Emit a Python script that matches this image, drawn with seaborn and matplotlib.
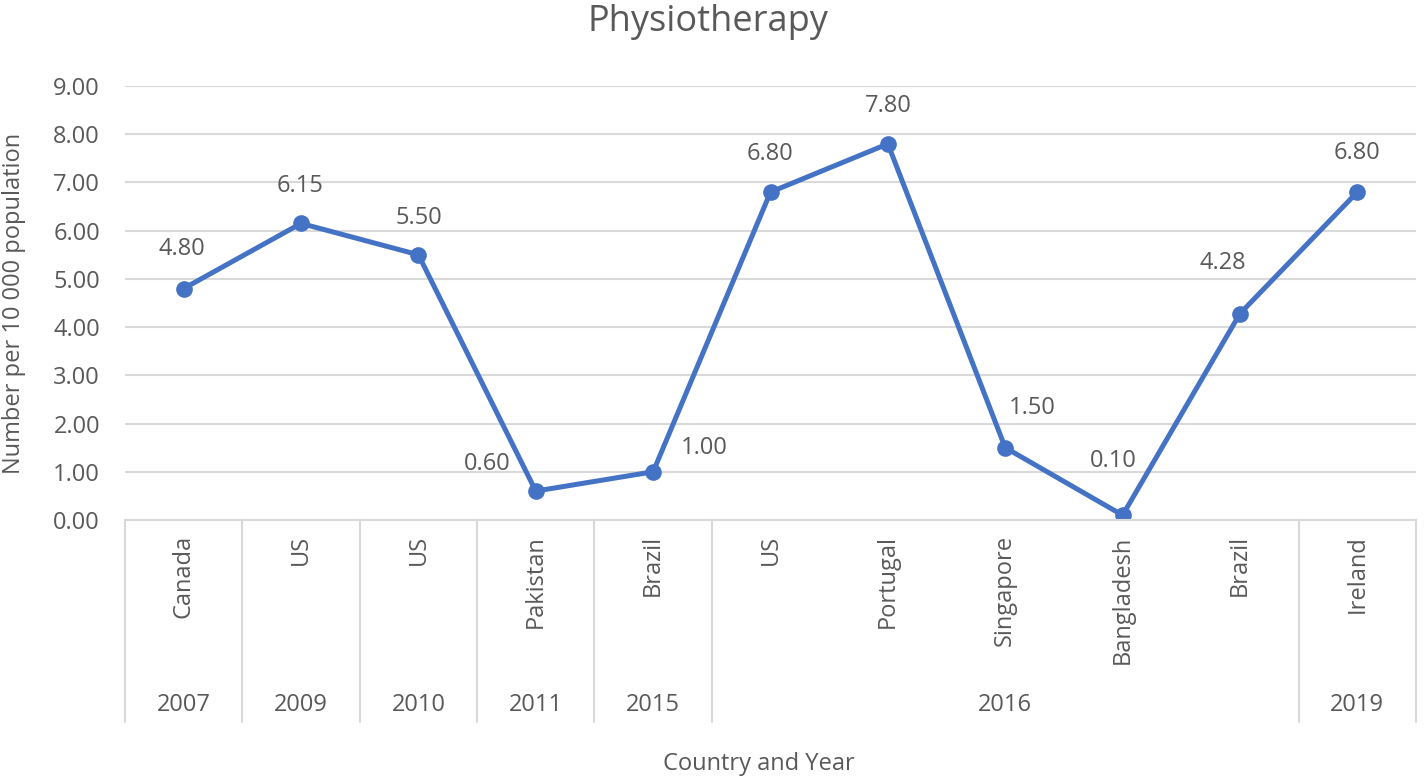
import itertools

import matplotlib.pyplot as plt
import matplotlib.transforms as mtransforms
import pandas as pd
import seaborn as sns

countries = ["Canada", "US", "US", "Pakistan", "Brazil", "US", "Portugal",
             "Singapore", "Bangladesh", "Brazil", "Ireland"]
years = ["2007", "2009", "2010", "2011", "2015", "2016", "2016", "2016",
         "2016", "2016", "2019"]
values = [4.80, 6.15, 5.50, 0.60, 1.00, 6.80, 7.80, 1.50, 0.10, 4.28, 6.80]

# label offsets in pixels (dx, dy), like Excel's placement
label_offsets = [(-2, 40), (-1, 37), (0, 37), (-49, 27), (51, 24), (-1, 38),
                 (0, 38), (27, 40), (-9, 54), (-17, 51), (0, 39)]

LINE = "#4472C4"
TEXT = "#595959"
GRID = "#D9D9D9"
FS = 17

sns.set_style("white")
plt.rcParams["font.family"] = ["Open Sans", "DejaVu Sans"]

df = pd.DataFrame({"idx": range(len(values)), "value": values})

fig = plt.figure(figsize=(14.24, 7.8), dpi=100)
ax = fig.add_axes([125 / 1424, 260 / 780, 1291 / 1424, 434 / 780])

sns.lineplot(data=df, x="idx", y="value", ax=ax, color=LINE, linewidth=3.6,
             marker="o", markersize=12, markeredgewidth=0)

for i, v in enumerate(values):
    dx, dy = label_offsets[i]
    ax.annotate(f"{v:.2f}", (i, v), xytext=(dx, dy), textcoords="offset pixels",
                ha="center", va="center", fontsize=FS, color=TEXT)

ax.set_xlim(-0.5, len(values) - 0.5)
ax.set_ylim(0, 9)
ax.set_yticks([i for i in range(10)])
ax.set_yticklabels([f"{i:.2f}" for i in range(10)])
ax.yaxis.grid(True, color=GRID, linewidth=1.5)
ax.set_axisbelow(True)
for s in ["left", "right", "top"]:
    ax.spines[s].set_visible(False)
ax.spines["bottom"].set_color(GRID)
ax.spines["bottom"].set_linewidth(1.5)

ax.set_xticks(range(len(countries)))
ax.set_xticklabels(countries, rotation=90, va="top", ha="center")
ax.tick_params(axis="x", length=0, pad=11, labelsize=FS, labelcolor=TEXT)
ax.tick_params(axis="y", length=0, pad=18, labelsize=FS, labelcolor=TEXT)

# year groups and separators under the axis
trans = mtransforms.blended_transform_factory(ax.transData, ax.transAxes)
sep_bottom = -202 / 434
year_y = -185 / 434
start = 0
bounds = [-0.5]
for yr, grp in itertools.groupby(years):
    n = len(list(grp))
    end = start + n - 1
    ax.text((start + end) / 2, year_y, yr, transform=trans, ha="center",
            va="center", fontsize=FS, color=TEXT)
    bounds.append(end + 0.5)
    start = end + 1
for b in bounds:
    ax.plot([b, b], [0, sep_bottom], transform=trans, color=GRID,
            linewidth=1.5, clip_on=False)

ax.set_xlabel("")
ax.set_ylabel("")
fig.text(759 / 1424, 1 - 764 / 780, "Country and Year", ha="center",
         va="center", fontsize=FS, color=TEXT)
fig.text(14 / 1424, 1 - 303 / 780, "Number per 10 000 population",
         rotation=90, ha="center", va="center", fontsize=FS, color=TEXT)
fig.text(708 / 1424, 1 - 22 / 780, "Physiotherapy", ha="center",
         va="center", fontsize=26, color=TEXT)

fig.savefig("out.png", dpi=100)
